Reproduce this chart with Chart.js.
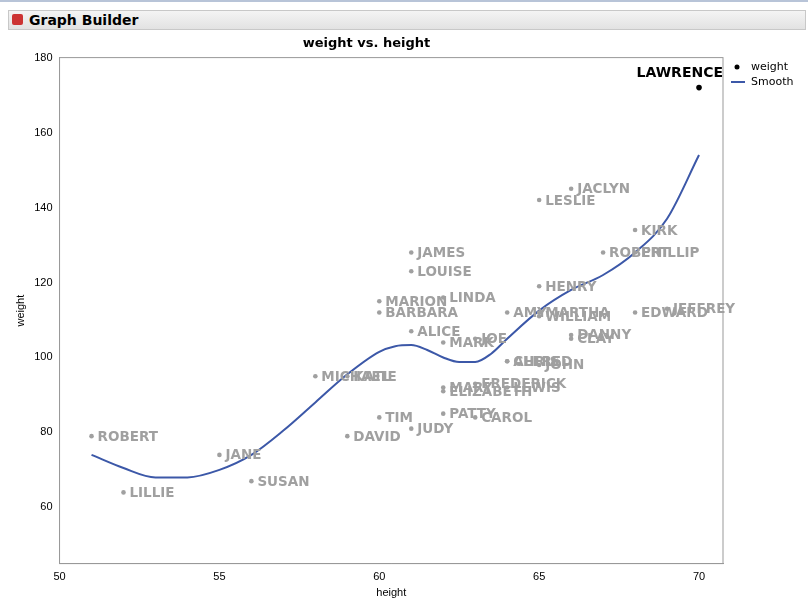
<!DOCTYPE html><html><head><meta charset="utf-8">
<script src="https://cdn.jsdelivr.net/npm/chart.js@4"></script>
<style>body{margin:0;width:808px;height:600px;background:#fff;font-family:"DejaVu Sans",sans-serif;overflow:hidden}
#hdr{position:absolute;left:8px;top:10px;width:798px;height:20px;background:linear-gradient(#f4f4f4,#e2e2e2);border:1px solid #c8c8c8;box-sizing:border-box;font:bold 14px "DejaVu Sans";line-height:18px;padding-left:20px}
#top{position:absolute;left:0;top:0;width:808px;height:2px;background:#b8c4d8}
#wrap{position:absolute;left:0;top:32px;width:808px;height:568px}</style></head><body>
<div id="top"></div><div id="hdr"><span style="position:absolute;left:3px;top:3px;width:11px;height:11px;background:#c33;border-radius:2px"></span>Graph Builder</div>
<div id="wrap"><canvas id="c" width="808" height="568"></canvas></div>
<script>
const names=["KATIE","LOUISE","JANE","JACLYN","LILLIE","TIM","JAMES","ROBERT","BARBARA","ALICE","SUSAN","JOHN","JOE","MICHAEL","DAVID","JUDY","ELIZABETH","LESLIE","CAROL","PATTY","FREDERICK","ALFRED","HENRY","LEWIS","EDWARD","CHRIS","JEFFREY","MARY","AMY","ROBERT","WILLIAM","CLAY","MARK","DANNY","MARTHA","MARION","PHILLIP","LINDA","KIRK","LAWRENCE"];
const heights=[59,61,55,66,52,60,61,51,60,61,56,65,63,58,59,61,62,65,63,62,63,64,65,64,68,64,69,62,64,67,65,66,62,66,65,60,68,62,68,70];
const weights=[95,123,74,145,64,84,128,79,112,107,67,98,105,95,79,81,91,142,84,85,93,99,119,92,112,99,113,92,112,128,111,105,104,106,112,115,128,116,134,172];
const smoothX=[51,52,53,54,55,56,57,58,59,60,60.5,61,61.5,62,62.5,63,63.5,64,65,66,67,68,69,70];
const smoothY=[74,70.5,68,68,70,74,80.5,88,95.5,101.5,103,103.3,102,100,98.8,98.8,101,105,112.5,118,122,128,137,154];
const hl="LAWRENCE";
const labels={id:'lbl',afterDatasetsDraw(ch){const c=ch.ctx,xs=ch.scales.x,ys=ch.scales.y;c.save();c.textBaseline='middle';
names.forEach((n,i)=>{const px=xs.getPixelForValue(heights[i]),py=ys.getPixelForValue(weights[i]);
if(n===hl){c.font='bold 14px "DejaVu Sans"';c.fillStyle='#000';c.textAlign='right';c.fillText(n,px+24,py-14);}
else{c.font='bold 13.5px "DejaVu Sans"';c.fillStyle='#a0a0a0';c.textAlign='left';c.fillText(n,px+6,py+1);}});
const lx=ch.chartArea.right+14;c.font='11px "DejaVu Sans"';c.fillStyle='#000';c.textAlign='left';
c.beginPath();c.arc(lx,35,2.5,0,7);c.fill();c.fillText('weight',lx+14,35);
c.strokeStyle='#3c58a8';c.lineWidth=2;c.beginPath();c.moveTo(lx-6,50);c.lineTo(lx+8,50);c.stroke();c.fillText('Smooth',lx+14,50);
c.restore();}};
new Chart(document.getElementById('c'),{type:'scatter',data:{datasets:[
{label:'weight',data:heights.map((h,i)=>({x:h,y:weights[i]})),backgroundColor:names.map(n=>n===hl?'#000':'#a0a0a0'),borderWidth:0,pointRadius:names.map(n=>n===hl?2.8:2.3)},
{label:'Smooth',type:'line',data:smoothX.map((x,i)=>({x,y:smoothY[i]})),borderColor:'#3c58a8',borderWidth:2,pointRadius:0,cubicInterpolationMode:'monotone'}]},
options:{responsive:false,animation:false,devicePixelRatio:1,layout:{padding:{right:85,left:10,top:0,bottom:0}},
plugins:{legend:{display:false},tooltip:{enabled:false},title:{display:true,text:'weight vs. height',color:'#000',font:{family:'DejaVu Sans',size:13,weight:'bold'},padding:{top:4,bottom:6}}},
scales:{x:{type:'linear',min:50,max:70.75,afterBuildTicks:a=>{a.ticks=[50,55,60,65,70].map(v=>({value:v}))},grid:{display:false,tickLength:4},border:{color:'#999'},ticks:{color:'#000',font:{size:11}},title:{display:true,text:'height',color:'#000',font:{size:11},padding:0}},
y:{min:45,max:180,afterBuildTicks:a=>{a.ticks=[60,80,100,120,140,160,180].map(v=>({value:v}))},grid:{display:false,tickLength:4},border:{color:'#999'},ticks:{color:'#000',font:{size:11}},title:{display:true,text:'weight',color:'#000',font:{size:11}}}}},
plugins:[labels,{id:'box',beforeDraw(ch){const a=ch.chartArea,c=ch.ctx;c.save();c.strokeStyle='#999';c.strokeRect(a.left,a.top,a.right-a.left,a.bottom-a.top);c.restore();}}]});
</script></body></html>
